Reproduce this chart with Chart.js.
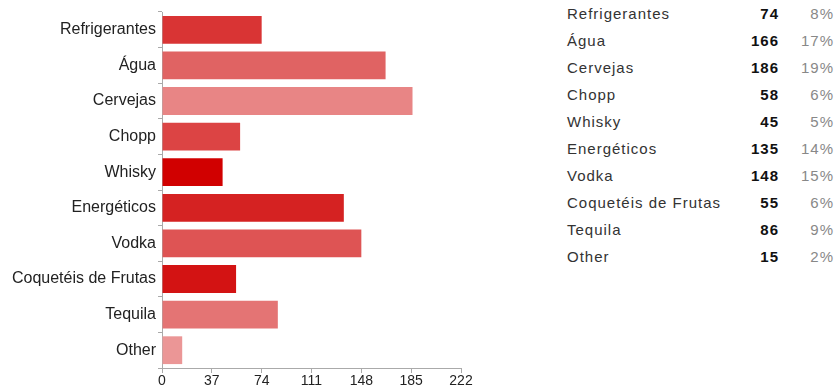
<!DOCTYPE html>
<html>
<head>
<meta charset="utf-8">
<script src="https://cdn.jsdelivr.net/npm/chart.js@4"></script>
<style>
  body { margin: 0; background: #fff; font-family: "Liberation Sans", Arial, sans-serif; }
  #wrap { position: relative; width: 839px; height: 391px; }
  #chart-box { position: absolute; left: 0; top: 0; width: 480px; height: 391px; }
  #table { position: absolute; left: 567px; top: 0; border-collapse: collapse; font-size: 15px; letter-spacing: 1px; }
  #table td { height: 27px; padding: 0; line-height: 27px; }
  #table td.lbl { color: #333; width: 180px; }
  #table td.num { color: #111; font-weight: bold; text-align: right; width: 32px; }
  #table td.pct { color: #888; text-align: right; width: 55px; }
</style>
</head>
<body>
<div id="wrap">
  <div id="chart-box"><canvas id="bars"></canvas></div>
  <table id="table"></table>
</div>
<script>
const categories = ["Refrigerantes", "Água", "Cervejas", "Chopp", "Whisky", "Energéticos", "Vodka", "Coquetéis de Frutas", "Tequila", "Other"];
const counts = [74, 166, 186, 58, 45, 135, 148, 55, 86, 15];
const barColors = ["#d93434", "#e06363", "#e88585", "#dc4444", "#d10000", "#d52222", "#de5454", "#d31313", "#e47474", "#eb9696"];
const xTicks = [0, 37, 74, 111, 148, 185, 222];

// table on the right
const total = counts.reduce((a, b) => a + b, 0);
const table = document.getElementById("table");
categories.forEach((c, i) => {
  const tr = document.createElement("tr");
  tr.innerHTML = '<td class="lbl">' + c + '</td><td class="num">' + counts[i] +
    '</td><td class="pct">' + Math.round(counts[i] / total * 100) + '%</td>';
  table.appendChild(tr);
});

new Chart(document.getElementById("bars"), {
  type: 'bar',
  data: {
    labels: categories,
    datasets: [{
      data: counts,
      backgroundColor: barColors,
      borderWidth: 0,
      categoryPercentage: 1,
      barPercentage: 0.78
    }]
  },
  options: {
    indexAxis: 'y',
    responsive: true,
    maintainAspectRatio: false,
    animation: false,
    events: [],
    layout: { padding: { top: 12, right: 19, bottom: 0, left: 0 } },
    plugins: {
      legend: { display: false },
      tooltip: { enabled: false }
    },
    scales: {
      x: {
        min: 0,
        max: 222,
        afterBuildTicks: (s) => { s.ticks = xTicks.map(v => ({ value: v })); },
        afterFit: (s) => { s.height = 23; },
        grid: { drawOnChartArea: false, tickLength: 5, color: '#aaa' },
        border: { color: '#aaa' },
        ticks: { color: '#222', font: { family: 'Liberation Sans', size: 14 }, padding: 0, maxRotation: 0 }
      },
      y: {
        afterFit: (s) => { s.width = 162; },
        grid: { drawOnChartArea: false, tickLength: 4, color: '#aaa' },
        border: { color: '#aaa' },
        ticks: { color: '#222', font: { family: 'Liberation Sans', size: 16 }, padding: 2 }
      }
    }
  }
});
</script>
</body>
</html>
